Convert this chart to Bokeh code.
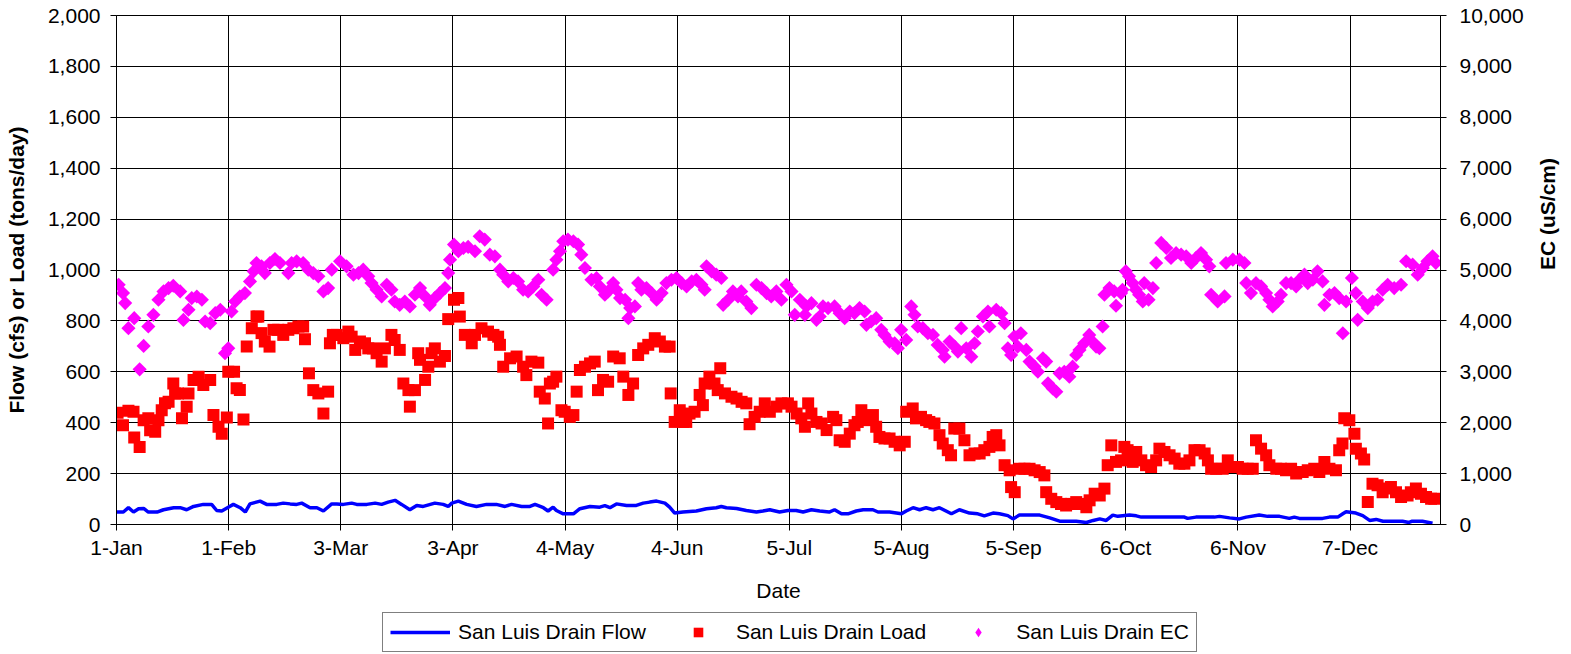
import math
from bokeh.plotting import figure
from bokeh.layouts import column
from bokeh.models import (Range1d, LinearAxis, FixedTicker, NumeralTickFormatter,
                          Legend, LegendItem)
from bokeh.embed import file_html
from bokeh.resources import INLINE

# ---------------- data (day of year, 0 = 1-Jan) ----------------
tick_days = [0, 31, 62, 93, 124, 155, 186, 217, 248, 279, 310, 341]
tick_labels = ["1-Jan", "1-Feb", "3-Mar", "3-Apr", "4-May", "4-Jun",
               "5-Jul", "5-Aug", "5-Sep", "6-Oct", "6-Nov", "7-Dec"]
left_ticks = list(range(0, 2001, 200))
right_ticks = list(range(0, 10001, 1000))
series_names = ["San Luis Drain Flow", "San Luis Drain Load", "San Luis Drain EC"]

flow_day = [0.1, 1.9, 3.3, 4.7, 6.1, 7.5, 8.8, 11.2, 13.0, 15.8, 17.6, 19.4, 21.3, 24.0, 26.3,
            27.7, 29.1, 30.9, 32.3, 34.2, 35.6, 36.9, 39.7, 41.5, 44.3, 46.1, 48.0, 49.8, 51.2,
            53.5, 55.4, 57.2, 59.5, 60.9, 62.7, 65.0, 66.4, 69.2, 71.5, 73.3, 75.1, 77.0, 78.8,
            81.1, 83.0, 84.8, 88.0, 90.3, 91.7, 92.7, 94.5, 96.8, 99.5, 102.3, 105.0, 107.4,
            109.2, 112.0, 114.3, 115.7, 118.0, 119.3, 120.7, 121.6, 123.5, 126.3, 128.1, 130.9,
            133.6, 135.0, 136.4, 138.2, 141.0, 143.7, 145.6, 147.4, 149.3, 151.6, 152.9, 154.3,
            156.6, 160.3, 163.1, 165.8, 167.2, 168.6, 171.4, 174.1, 176.9, 178.7, 180.6, 183.3,
            185.6, 187.9, 189.8, 192.1, 194.4, 197.0, 198.5, 200.4, 202.2, 204.5, 206.4, 209.1,
            210.5, 213.7, 217.0, 218.3, 220.2, 222.0, 223.8, 225.7, 227.5, 230.8, 233.0, 235.8,
            238.1, 239.9, 242.3, 244.1, 246.4, 247.8, 249.6, 255.2, 258.0, 260.7, 265.3, 268.1,
            270.0, 271.8, 273.6, 275.4, 276.8, 280.0, 281.9, 283.3, 287.4, 291.9, 295.2, 296.1,
            298.4, 303.5, 304.9, 307.7, 310.4, 312.3, 315.9, 318.2, 321.5, 324.2, 325.6, 327.0,
            333.4, 335.3, 337.6, 339.0, 339.9, 342.6, 344.5, 346.4, 348.2, 350.1, 355.5, 357.3,
            358.2, 361.0, 363.8]
flow_cfs = [49, 49, 66, 49, 62, 63, 49, 49, 58, 66, 66, 58, 71, 79, 79,
            55, 53, 68, 79, 66, 49, 81, 92, 79, 79, 84, 81, 79, 84,
            66, 66, 53, 81, 81, 79, 84, 79, 79, 84, 79, 88, 95, 79,
            58, 75, 71, 84, 79, 71, 84, 92, 79, 71, 79, 79, 71,
            79, 71, 71, 79, 66, 53, 68, 55, 42, 42, 62, 71,
            68, 74, 66, 81, 75, 75, 84, 88, 92, 84, 68, 45,
            49, 53, 62, 66, 71, 66, 63, 55, 49, 53, 58, 49,
            55, 55, 49, 58, 53, 49, 58, 42, 42, 53, 58, 58,
            49, 49, 42, 53, 66, 58, 66, 58, 66, 42, 58, 45,
            42, 34, 45, 42, 35, 22, 37, 37, 26, 13, 13, 8,
            16, 22, 16, 37, 32, 37, 34, 29, 29, 29, 29, 24,
            29, 29, 32, 26, 22, 29, 37, 32, 32, 24, 29, 24,
            24, 29, 29, 42, 50, 45, 35, 16, 20, 13, 13, 8,
            13, 13, 5]

load_day = [0.3, 1.8, 3.3, 4.7, 4.9, 6.4, 7.5, 8.8, 9.3, 10.7, 11.6, 12.5, 13.4, 14.4, 15.7,
            16.2, 17.0, 18.1, 19.4, 19.9, 21.3, 22.7, 24.0, 25.9, 26.8, 28.2, 29.1, 30.5, 30.9,
            32.5, 33.2, 34.1, 35.1, 36.0, 37.4, 38.7, 39.2, 40.1, 41.0, 42.3, 43.4, 44.7, 46.1,
            47.5, 48.9, 50.3, 51.6, 52.1, 53.2, 54.4, 55.8, 57.2, 58.5, 59.0, 59.8, 60.9, 62.7,
            64.1, 65.0, 66.0, 67.3, 68.7, 69.6, 70.9, 71.9, 73.3, 74.2, 76.0, 76.9, 78.3, 79.3,
            80.7, 81.1, 82.5, 83.4, 83.9, 85.3, 86.2, 87.1, 88.0, 89.4, 90.8, 91.7, 93.3, 94.5,
            94.9, 96.3, 98.2, 99.1, 100.9, 102.7, 104.2, 105.5, 106.0, 106.9, 108.8, 110.6, 112.4,
            113.3, 114.7, 116.6, 117.0, 118.4, 119.3, 119.8, 120.7, 121.6, 123.0, 123.9, 125.3,
            126.3, 127.2, 128.1, 129.5, 130.9, 132.2, 133.1, 134.5, 135.9, 137.3, 139.1, 140.1,
            141.5, 142.8, 144.2, 145.6, 147.0, 148.8, 150.2, 151.6, 152.9, 153.2, 154.3, 155.7,
            156.6, 157.5, 158.4, 159.8, 161.2, 162.1, 162.6, 163.9, 165.3, 166.2, 166.9, 168.2,
            170.0, 171.4, 172.8, 174.1, 175.0, 176.4, 177.8, 179.2, 180.6, 182.4, 183.8, 185.6,
            186.6, 188.0, 189.3, 190.3, 191.2, 192.1, 193.5, 194.9, 196.3, 198.1, 199.0, 199.9,
            201.3, 202.7, 204.0, 204.9, 205.9, 207.3, 209.1, 210.0, 210.9, 212.3, 213.7, 215.1,
            216.5, 217.9, 218.3, 220.1, 221.0, 222.4, 223.8, 224.7, 226.1, 227.5, 228.4, 229.8,
            230.7, 231.6, 233.0, 234.4, 235.8, 237.2, 238.6, 239.9, 241.3, 242.2, 243.2, 244.1,
            245.5, 246.9, 247.3, 248.3, 249.6, 251.0, 252.4, 253.8, 255.2, 256.5, 257.0, 258.4,
            259.8, 261.1, 262.5, 263.9, 265.3, 266.7, 268.1, 269.0, 270.4, 271.8, 273.1, 274.0,
            275.0, 276.3, 277.7, 278.6, 279.5, 280.9, 281.9, 283.3, 284.6, 286.0, 287.4, 288.3,
            289.7, 291.1, 292.5, 293.8, 295.2, 296.6, 298.0, 299.4, 300.8, 301.7, 302.6, 304.0,
            305.8, 307.2, 308.6, 310.0, 311.3, 312.7, 314.1, 315.0, 316.4, 317.8, 318.7, 320.6,
            321.9, 323.3, 324.7, 326.1, 327.9, 329.3, 331.1, 332.5, 333.9, 335.3, 337.1, 338.0,
            338.9, 339.4, 340.8, 342.2, 342.6, 344.0, 344.9, 345.9, 347.2, 348.6, 350.0, 351.4,
            352.3, 353.7, 355.1, 356.9, 357.8, 359.2, 360.6, 362.0, 363.4, 364.3]
load_tpd = [439, 390, 447, 443, 342, 305, 410, 417, 370, 364, 410, 449, 476, 482, 554,
            515, 515, 417, 463, 515, 568, 581, 548, 568, 430, 384, 357, 420, 600,
            600, 535, 528, 413, 699, 771, 817, 817, 752, 719, 699, 765, 765, 745,
            765, 771, 778, 778, 728, 594, 528, 515, 436, 522, 712, 745, 745, 732,
            758, 738, 686, 719, 712, 692, 692, 673, 640, 692, 745, 725, 686, 554,
            528, 463, 528, 673, 647, 568, 620, 673, 692, 640, 662, 807, 883, 890,
            817, 745, 712, 745, 771, 758, 745, 738, 706, 620, 653, 660, 620,
            587, 640, 636, 522, 495, 397, 554, 561, 581, 449, 443, 423,
            430, 522, 607, 620, 633, 640, 528, 568, 561, 660, 653, 581,
            509, 554, 666, 692, 706, 732, 719, 699, 699, 515, 403, 449,
            403, 403, 436, 443, 509, 469, 554, 581, 554, 528, 614, 515,
            502, 495, 482, 476, 394, 423, 443, 476, 443, 463, 476, 476,
            463, 436, 417, 384, 476, 436, 403, 397, 371, 423, 410, 331,
            325, 357, 390, 403, 449, 410, 430, 384, 344, 338, 338, 325,
            311, 325, 443, 456, 417, 423, 410, 403, 397, 351, 318, 292,
            272, 377, 377, 331, 272, 279, 279, 292, 305, 344, 351, 311,
            233, 213, 147, 127, 219, 219, 219, 213, 206, 193, 127, 101,
            88, 81, 75, 81, 88, 81, 68, 95, 121, 114, 141, 233,
            311, 246, 252, 305, 292, 246, 285, 252, 233, 226, 252, 298,
            285, 272, 259, 239, 239, 252, 292, 292, 279, 252, 219, 219,
            219, 252, 226, 226, 219, 219, 219, 331, 298, 272, 233, 219,
            219, 213, 219, 200, 206, 213, 219, 206, 246, 219, 213, 292,
            318, 417, 410, 357, 298, 279, 255, 88, 160, 154, 127, 141,
            147, 127, 108, 114, 127, 141, 121, 108, 101, 101]

ec_day = [0.6, 1.8, 2.4, 3.3, 4.9, 6.4, 7.5, 8.8, 10.2, 11.6, 13.0, 14.4, 15.7, 17.6, 18.5,
          19.9, 20.8, 22.2, 23.6, 24.5, 25.9, 27.3, 28.7, 30.0, 30.9, 31.8, 32.8, 34.1, 35.5,
          36.9, 37.9, 38.7, 40.1, 41.0, 42.4, 43.8, 45.2, 47.5, 48.4, 49.8, 51.6, 53.0, 54.4,
          55.8, 57.2, 58.5, 59.5, 61.8, 63.6, 65.5, 66.9, 68.2, 69.6, 70.5, 71.9, 73.3, 74.7,
          76.0, 76.9, 78.3, 79.7, 81.1, 82.5, 83.9, 85.3, 86.6, 88.0, 89.4, 90.8, 91.7, 92.2,
          93.3, 94.5, 95.9, 97.2, 99.1, 100.4, 101.8, 103.2, 104.6, 106.0, 106.9, 108.3, 109.7,
          111.0, 112.4, 113.8, 115.2, 116.6, 117.5, 118.9, 120.7, 121.6, 122.6, 123.5, 124.8,
          126.3, 127.6, 128.5, 129.5, 131.3, 132.7, 133.6, 135.0, 135.9, 137.3, 138.2, 139.2,
          140.6, 141.5, 142.0, 143.3, 144.2, 145.1, 146.5, 147.9, 149.3, 150.7, 152.0, 153.4,
          154.8, 156.2, 157.6, 159.0, 160.3, 161.7, 162.6, 163.1, 164.5, 165.8, 167.2, 167.7,
          169.1, 170.4, 171.8, 172.7, 174.1, 175.5, 176.9, 178.3, 179.7, 181.0, 182.4, 183.8,
          185.2, 186.6, 187.5, 188.9, 190.3, 190.7, 192.1, 193.5, 194.4, 195.3, 196.7, 198.5,
          199.9, 201.3, 202.7, 204.0, 205.4, 206.8, 207.3, 208.6, 210.0, 211.4, 212.3, 213.7,
          215.1, 216.0, 216.9, 218.3, 219.7, 220.6, 221.5, 222.9, 224.3, 225.7, 227.0, 228.4,
          228.9, 230.3, 231.7, 232.6, 233.5, 234.9, 236.3, 237.2, 238.1, 239.5, 240.9, 241.3,
          243.2, 244.6, 245.5, 246.4, 247.3, 248.2, 249.1, 250.0, 251.5, 252.4, 253.8, 254.7,
          256.1, 257.0, 257.5, 258.8, 259.8, 260.7, 262.0, 263.4, 264.3, 265.3, 266.2, 267.5,
          268.9, 269.8, 270.8, 271.7, 272.6, 273.1, 274.5, 275.8, 276.3, 277.7, 278.1, 279.0,
          279.9, 280.9, 281.8, 282.7, 283.7, 284.1, 285.3, 286.5, 287.4, 288.8, 290.2, 291.5,
          292.9, 294.3, 295.7, 297.1, 298.4, 299.8, 301.2, 302.1, 302.6, 304.4, 306.3, 306.7,
          308.6, 310.4, 311.8, 312.3, 313.6, 315.0, 316.4, 317.8, 318.7, 319.6, 321.0, 321.9,
          323.3, 324.7, 326.1, 327.0, 328.4, 329.3, 330.7, 332.0, 333.4, 333.9, 335.3, 336.7,
          338.0, 339.0, 339.9, 341.5, 342.6, 343.1, 344.5, 345.9, 347.2, 348.6, 350.0, 351.4,
          353.2, 355.1, 356.5, 358.3, 359.7, 361.1, 362.4, 363.8, 364.7]
ec_uscm = [4711, 4546, 4350, 3857, 4054, 3049, 3508, 3890, 4119, 4415, 4579, 4645, 4690, 4580, 4020,
           4218, 4448, 4480, 4415, 3988, 3955, 4152, 4218, 3364, 3462, 4185, 4382, 4480, 4546,
           4776, 4973, 5138, 5072, 4940, 5138, 5217, 5138, 4940, 5138, 5170, 5138, 5006, 4940,
           4875, 4579, 4645, 5006, 5171, 5072, 4908, 4940, 5006, 4875, 4743, 4612, 4481, 4711,
           4612, 4382, 4316, 4382, 4284, 4514, 4645, 4481, 4316, 4448, 4546, 4645, 4940, 5203,
           5499, 5368, 5433, 5453, 5368, 5663, 5598, 5302, 5269, 5006, 4908, 4776, 4842,
           4776, 4612, 4579, 4678, 4809, 4514, 4415, 5006, 5203, 5368, 5565, 5598,
           5565, 5499, 5302, 5039, 4809, 4842, 4678, 4514, 4579, 4743, 4612, 4448,
           4415, 4054, 4251, 4284, 4743, 4612, 4645, 4546, 4415, 4546, 4743, 4809,
           4842, 4743, 4678, 4776, 4809, 4711, 4612, 5072, 4973, 4908, 4842, 4316,
           4415, 4579, 4481, 4579, 4382, 4251, 4711, 4645, 4546, 4480, 4579, 4415,
           4711, 4579, 4119, 4415, 4119, 4284, 4349, 4021, 4087, 4284, 4251, 4284,
           4152, 4054, 4185, 4152, 4251, 4185, 3922, 3988, 4054, 3824, 3725, 3594,
           3561, 3462, 3824, 3627, 4284, 4119, 3889, 3857, 3758, 3725, 3528, 3430,
           3298, 3594, 3495, 3397, 3857, 3462, 3298, 3561, 3791, 4087, 4185, 3889,
           4218, 4152, 3955, 3462, 3331, 3692, 3495, 3758, 3430, 3200, 3101, 3002,
           3265, 3200, 2773, 2674, 2608, 2970, 3002, 2904, 3101, 3331, 3430, 3561,
           3725, 3594, 3495, 3462, 3889, 4514, 4645, 4579, 4297, 4546, 4612, 4973,
           4875, 4743, 4612, 4514, 4382, 4743, 4415, 4645, 5138, 5532, 5433, 5236,
           5335, 5302, 5269, 5138, 5236, 5335, 5203, 5072, 4514, 4382, 4481, 5138,
           5203, 5203, 5138, 4743, 4546, 4743, 4678, 4546, 4415, 4284, 4382, 4514,
           4743, 4743, 4678, 4809, 4908, 4743, 4809, 4973, 4776, 4316, 4514, 4546,
           4448, 3758, 4382, 4842, 4546, 4021, 4382, 4251, 4382, 4415, 4612, 4711,
           4645, 4711, 5171, 5105, 4908, 5039, 5171, 5269, 5138]

FONT = "Liberation Sans"
FS = "21px"
FLOW_STYLE = dict(line_color="#0000FF", line_width=3.5)
LOAD_STYLE = dict(marker="square", size=12, fill_color="#FF0000", line_color="#FF0000", line_width=0)
EC_STYLE = dict(marker="square", angle=math.pi / 4, size=10, fill_color="#FF00FF",
                line_color="#FF00FF", line_width=0)


def style_axis(ax, label, bold, label_standoff, tick_standoff):
    ax.axis_label = label
    ax.axis_label_text_font = FONT
    ax.axis_label_text_font_style = "bold" if bold else "normal"
    ax.axis_label_text_font_size = FS
    ax.axis_label_text_color = "black"
    ax.axis_label_standoff = label_standoff
    ax.major_label_text_font = FONT
    ax.major_label_text_font_size = FS
    ax.major_label_text_color = "black"
    ax.major_label_standoff = tick_standoff
    ax.major_tick_out = 6
    ax.major_tick_in = 0
    ax.minor_tick_out = 0
    ax.minor_tick_in = 0
    ax.axis_line_color = "black"
    ax.major_tick_line_color = "black"


p = figure(frame_width=1324, frame_height=509,
           min_border_left=116, min_border_top=15, min_border_right=125, min_border_bottom=80,
           output_backend="svg", toolbar_location=None,
           x_range=Range1d(0, 366), y_range=Range1d(0, 2000),
           background_fill_color="white", border_fill_color="white")
p.outline_line_color = "black"
p.outline_line_width = 1
p.extra_y_ranges = {"ec": Range1d(0, 10000)}

ya = p.yaxis[0]
ya.ticker = FixedTicker(ticks=left_ticks)
ya.formatter = NumeralTickFormatter(format="0,0")
style_axis(ya, "Flow (cfs) or Load (tons/day)", True, 17, 10)

xa = p.xaxis[0]
xa.ticker = FixedTicker(ticks=tick_days)
xa.major_label_overrides = {d: lab for d, lab in zip(tick_days, tick_labels)}
style_axis(xa, "Date", False, 17, 5)

ra = LinearAxis(y_range_name="ec", ticker=FixedTicker(ticks=right_ticks),
                formatter=NumeralTickFormatter(format="0,0"))
style_axis(ra, "EC (uS/cm)", True, 21, 13)
try:
    ra.axis_label_orientation = math.pi / 2
except Exception:
    pass
p.add_layout(ra, "right")

p.xgrid.ticker = FixedTicker(ticks=tick_days)
p.ygrid.ticker = FixedTicker(ticks=left_ticks)
for g in (p.xgrid[0], p.ygrid[0]):
    g.grid_line_color = "black"
    g.grid_line_width = 1
    g.grid_line_alpha = 1

p.line(flow_day, flow_cfs, **FLOW_STYLE)
p.scatter(load_day, load_tpd, **LOAD_STYLE)
p.scatter(ec_day, ec_uscm, y_range_name="ec", **EC_STYLE)

# legend strip below the chart (key glyphs use off-canvas points, only the key is shown)
lg = figure(width=1565, height=50, x_range=Range1d(0, 1), y_range=Range1d(0, 1),
            x_axis_type=None, y_axis_type=None, min_border=0,
            output_backend="svg", toolbar_location=None,
            background_fill_color="white", border_fill_color="white")
lg.outline_line_color = None
lg.grid.visible = False
k_flow = lg.line([-5, -4], [-5, -4], **FLOW_STYLE)
k_load = lg.scatter([-5], [-5], marker="square", size=10,
                    fill_color="#FF0000", line_color="#FF0000", line_width=0)
k_ec = lg.scatter([-5], [-5], marker="diamond", size=16,
                  fill_color="#FF00FF", line_color="#FF00FF", line_width=0)
legend = Legend(items=[LegendItem(label=series_names[0], renderers=[k_flow]),
                       LegendItem(label=series_names[1], renderers=[k_load]),
                       LegendItem(label=series_names[2], renderers=[k_ec])],
                orientation="horizontal", location=(266, 2),
                border_line_color="black", border_line_width=1,
                background_fill_color="white", background_fill_alpha=1,
                label_text_font=FONT, label_text_font_size=FS, label_text_color="black",
                glyph_width=60, glyph_height=24, label_standoff=8,
                spacing=22, padding=7, margin=0)
lg.add_layout(legend, "center")

layout = column(p, lg, spacing=0)
open("out.html", "w").write(file_html(layout, INLINE))
